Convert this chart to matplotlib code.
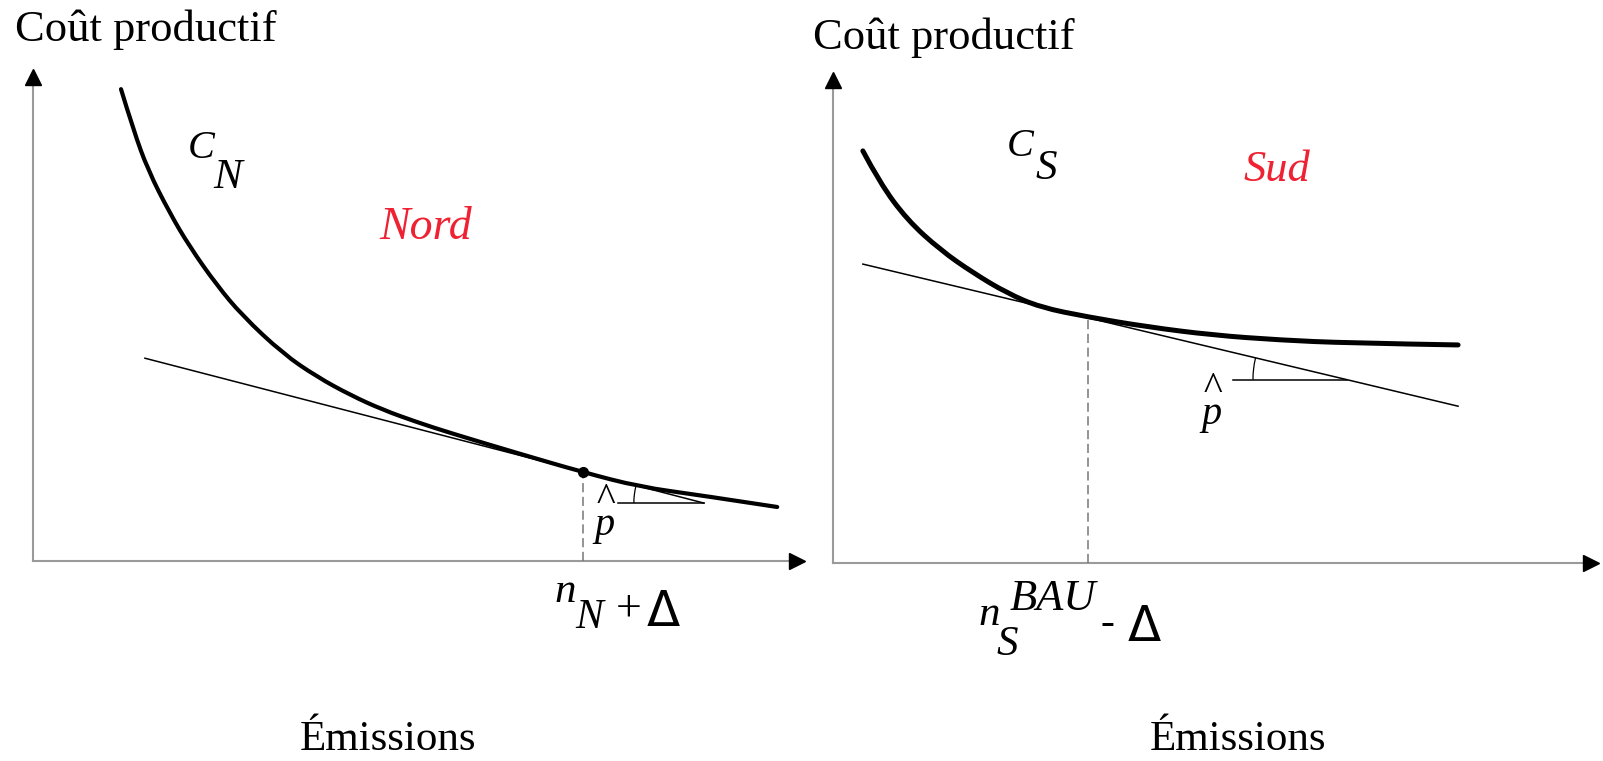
import math
import matplotlib
matplotlib.use("Agg")
import matplotlib.pyplot as plt
from matplotlib.patches import Arc, PathPatch
from matplotlib.path import Path

# ---- data (panel units: x = emissions 0..10, y = cost 0..10) ----
# Nord
nord_x = [1.14, 1.30, 1.49, 1.77, 2.03, 2.38, 2.71, 3.24, 3.68, 4.11, 4.53, 4.97,
          5.40, 6.27, 7.12, 7.86, 8.64, 9.64]
nord_y = [9.61, 8.78, 7.96, 7.09, 6.40, 5.62, 5.00, 4.22, 3.75, 3.38, 3.08, 2.83,
          2.61, 2.20, 1.81, 1.51, 1.34, 1.10]
nord_tan_x = [1.45, 8.69]
nord_tan_y = [4.13, 1.18]
nord_pt = (7.12, 1.81)          # n_N + Delta
nord_flat_x = [7.58, 8.69]      # horizontal leg of the slope angle
nord_flat_y = 1.18

# Sud
sud_x = [0.39, 0.61, 0.97, 1.40, 1.83, 2.27, 2.70, 3.33, 4.10, 4.96, 5.84, 6.71, 8.16]
sud_y = [8.41, 7.76, 7.00, 6.39, 5.92, 5.51, 5.22, 5.02, 4.82, 4.65, 4.55, 4.49, 4.45]
sud_tan_x = [0.39, 8.16]
sud_tan_y = [6.10, 3.20]
sud_pt = (3.33, 5.00)           # n_S^BAU - Delta
sud_flat_x = [5.22, 6.71]
sud_flat_y = 3.74

W, H = 1603, 761
fig = plt.figure(figsize=(W / 100, H / 100), dpi=100)
fig.patch.set_facecolor("white")

SERIF = "Liberation Serif"
AXC = "#9a9a9a"
RED = "#ee2233"


def make_axes(x0, y0, x1, y1):
    # pixel box (origin -> arrow tips) to figure fractions
    ax = fig.add_axes([x0 / W, (H - y0) / H, (x1 - x0) / W, (y0 - y1) / H])
    ax.set_xlim(0, 10); ax.set_ylim(0, 10)
    ax.axis("off")
    ax.plot([0, 9.9], [0, 0], color=AXC, lw=1.5, clip_on=False)
    ax.plot([0, 0], [0, 9.85], color=AXC, lw=1.5, clip_on=False)
    ax.plot(9.9, 0, ">", color="black", ms=11, clip_on=False)
    ax.plot(0, 9.85, "^", color="black", ms=11, clip_on=False)
    return ax


def smooth_curve(ax, xs, ys, lw):
    # quadratic bezier through the read points (points as controls, midpoints on curve)
    pts = list(zip(xs, ys))
    verts, codes = [pts[0]], [Path.MOVETO]
    for i in range(1, len(pts) - 1):
        nxt = pts[i + 1] if i == len(pts) - 2 else ((pts[i][0] + pts[i + 1][0]) / 2,
                                                    (pts[i][1] + pts[i + 1][1]) / 2)
        verts += [pts[i], nxt]
        codes += [Path.CURVE3, Path.CURVE3]
    ax.add_patch(PathPatch(Path(verts, codes), fill=False, lw=lw, edgecolor="black",
                           capstyle="round", joinstyle="round"))


def slope_arc(ax, cx, cy, r_px, slope, px_per_x, px_per_y):
    th = 180 - math.degrees(math.atan(slope))
    ax.add_patch(Arc((cx, cy), 2 * r_px / px_per_x, 2 * r_px / px_per_y,
                     theta1=th, theta2=180, color="black", lw=0.9))


# ---------------- Nord ----------------
axL = make_axes(33, 561, 805, 70)
smooth_curve(axL, nord_x, nord_y, 3.0)
axL.plot(nord_tan_x, nord_tan_y, color="black", lw=1.1)
axL.plot([nord_pt[0], nord_pt[0]], [0, nord_pt[1]], color="#777777", lw=1.1,
         ls=(0, (6, 3)))
axL.plot(*nord_pt, "o", color="black", ms=7)
axL.plot(nord_flat_x, [nord_flat_y] * 2, color="black", lw=1.1)
slope_arc(axL, nord_flat_x[1], nord_flat_y, 70,
          (nord_tan_y[0] - nord_tan_y[1]) / (nord_tan_x[1] - nord_tan_x[0]), 77.2, 49.1)

axL.text(2.18, 8.40, "C", family=SERIF, style="italic", fontsize=29, ha="center", va="center")
axL.text(2.52, 7.80, "N", family=SERIF, style="italic", fontsize=31, ha="center", va="center")
axL.text(5.09, 6.78, "Nord", family=SERIF, style="italic", fontsize=33, color=RED,
         ha="center", va="center")
axL.text(7.40, 0.35, "^\np", family=SERIF, style="italic", fontsize=29, ha="center",
         va="bottom", linespacing=0.52)
axL.text(6.76, -0.835, "n", family=SERIF, style="italic", fontsize=31, ha="left", va="baseline")
axL.text(7.02, -1.36, "N", family=SERIF, style="italic", fontsize=30, ha="left", va="baseline")
axL.text(7.71, -0.98, "+", family=SERIF, fontsize=33, ha="center", va="center")
axL.text(7.95, -1.32, "Δ", family="DejaVu Sans", fontsize=35, ha="left", va="baseline")

# ---------------- Sud ----------------
axR = make_axes(833, 563, 1599, 73)
smooth_curve(axR, sud_x, sud_y, 3.6)
axR.plot(sud_tan_x, sud_tan_y, color="black", lw=1.1)
axR.plot([sud_pt[0], sud_pt[0]], [0, sud_pt[1]], color="#777777", lw=1.1,
         ls=(0, (6, 3)))
axR.plot(sud_flat_x, [sud_flat_y] * 2, color="black", lw=1.1)
slope_arc(axR, sud_flat_x[1], sud_flat_y, 94,
          (sud_tan_y[0] - sud_tan_y[1]) / (sud_tan_x[1] - sud_tan_x[0]), 76.6, 49.0)

axR.text(2.45, 8.50, "C", family=SERIF, style="italic", fontsize=29, ha="center", va="center")
axR.text(2.78, 8.05, "S", family=SERIF, style="italic", fontsize=31, ha="center", va="center")
axR.text(5.80, 8.02, "Sud", family=SERIF, style="italic", fontsize=32, color=RED,
         ha="center", va="center")
axR.text(4.94, 2.66, "^\np", family=SERIF, style="italic", fontsize=29, ha="center",
         va="bottom", linespacing=0.52)
axR.text(1.90, -1.27, "n", family=SERIF, style="italic", fontsize=31, ha="left", va="baseline")
axR.text(2.13, -1.88, "S", family=SERIF, style="italic", fontsize=31, ha="left", va="baseline")
axR.text(2.30, -0.96, "BAU", family=SERIF, style="italic", fontsize=32, ha="left", va="baseline")
axR.text(3.58, -1.24, "-", family=SERIF, fontsize=30, ha="center", va="center")
axR.text(3.84, -1.60, "Δ", family="DejaVu Sans", fontsize=35, ha="left", va="baseline")

# ---------------- axis titles ----------------
fig.text(15 / W, 1 - 30 / H, "Coût productif", family=SERIF, fontsize=32, ha="left", va="center")
fig.text(813 / W, 1 - 38 / H, "Coût productif", family=SERIF, fontsize=32, ha="left", va="center")
fig.text(388 / W, 1 - 740 / H, "Émissions", family=SERIF, fontsize=31, ha="center", va="center")
fig.text(1238 / W, 1 - 740 / H, "Émissions", family=SERIF, fontsize=31, ha="center", va="center")

fig.savefig("out.png", dpi=100, facecolor="white")
